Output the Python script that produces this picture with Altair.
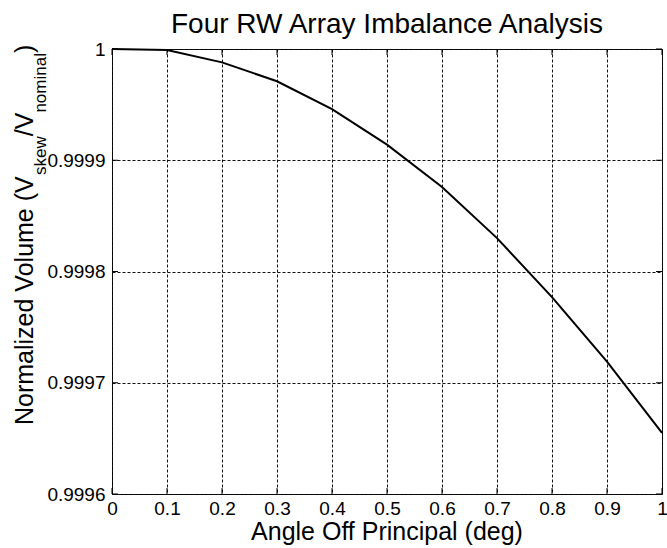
import altair as alt
import pandas as pd

# ---- data ----
angle_deg = [0.0, 0.1, 0.2, 0.3, 0.4, 0.5, 0.6, 0.7, 0.8, 0.9, 1.0]
norm_volume = [1.0, 0.999999, 0.999988, 0.999971, 0.999946, 0.999914,
               0.999876, 0.999830, 0.999777, 0.999719, 0.999655]
x_ticks = [0, 0.1, 0.2, 0.3, 0.4, 0.5, 0.6, 0.7, 0.8, 0.9, 1]
y_ticks = [0.9996, 0.9997, 0.9998, 0.9999, 1]

title_text = "Four RW Array Imbalance Analysis"
x_title = "Angle Off Principal (deg)"
# y title pieces: (text, is_subscript)
y_title_parts = [("Normalized Volume (V", False), ("skew", True), ("/V", False),
                 ("nominal", True), (")", False)]

FONT = "Liberation Sans"
LABEL_FONT = "Liberation Sans Narrow, Liberation Sans"
W, H = 550, 445
MAIN_FS, SUB_FS = 25, 17

# Arial/Liberation Sans advance widths (per 1000 em) for y-title layout
ADV = {'N': 722, 'o': 556, 'r': 333, 'm': 833, 'a': 556, 'l': 222, 'i': 222,
       'z': 500, 'e': 556, 'd': 556, ' ': 278, 'V': 667, 'u': 556, '(': 333,
       ')': 333, 's': 500, 'k': 500, 'w': 722, '/': 278, 'n': 556}


def text_width(s, fs):
    return sum(ADV.get(c, 556) for c in s) * fs / 1000.0


df = pd.DataFrame({"angle": angle_deg, "vol": norm_volume})
xt = pd.DataFrame({"angle": x_ticks})
yt = pd.DataFrame({"vol": y_ticks})

xscale = alt.Scale(domain=[0, 1], nice=False, zero=False)
yscale = alt.Scale(domain=[0.9996, 1], nice=False, zero=False)

grid_kw = dict(grid=True, gridColor="#111111", gridDash=[3, 2], gridWidth=1,
               gridOpacity=1, domain=False, ticks=False, labelFont=LABEL_FONT,
               labelFontSize=19, labelColor="black", title=None, format="~g",
               labelFlush=False)
x_axis = alt.Axis(values=x_ticks, labelPadding=5, **grid_kw)
y_axis = alt.Axis(values=y_ticks, labelPadding=7, **grid_kw)

X = alt.X("angle:Q", scale=xscale, axis=x_axis)
Y = alt.Y("vol:Q", scale=yscale, axis=y_axis)

line = alt.Chart(df).mark_line(color="black", strokeWidth=2).encode(x=X, y=Y)

TL = 6
tick_b = alt.Chart(xt).mark_rule(color="black").encode(
    x=X, y=alt.value(H), y2=alt.value(H - TL))
tick_t = alt.Chart(xt).mark_rule(color="black").encode(
    x=X, y=alt.value(0), y2=alt.value(TL))
tick_l = alt.Chart(yt).mark_rule(color="black").encode(
    y=Y, x=alt.value(0), x2=alt.value(TL))
tick_r = alt.Chart(yt).mark_rule(color="black").encode(
    y=Y, x=alt.value(W), x2=alt.value(W - TL))

one = alt.Data(values=[{"k": 0}])

title_mark = alt.Chart(one).mark_text(
    text=title_text, font=FONT, fontSize=28, align="center",
    baseline="alphabetic", color="black").encode(
    x=alt.value(W / 2), y=alt.value(-16))

xtitle_mark = alt.Chart(one).mark_text(
    text=x_title, font=FONT, fontSize=25, align="center",
    baseline="alphabetic", color="black").encode(
    x=alt.value(W / 2), y=alt.value(H + 46))

# y title composed of rotated pieces with subscripts
main_base_x = -79
sub_base_x = -66
start_y = 376
layers_y = []
cur = start_y
for txt, sub in y_title_parts:
    fs = SUB_FS if sub else MAIN_FS
    layers_y.append(
        alt.Chart(one).mark_text(
            text=txt, font=FONT, fontSize=fs, angle=270, align="left",
            baseline="alphabetic", color="black").encode(
            x=alt.value(sub_base_x if sub else main_base_x), y=alt.value(cur)))
    cur -= text_width(txt, fs)

chart = alt.layer(line, tick_b, tick_t, tick_l, tick_r, title_mark,
                  xtitle_mark, *layers_y).properties(
    width=W, height=H,
    autosize=alt.AutoSizeParams(type="none"),
    padding={"left": 112, "top": 49, "right": 5, "bottom": 54},
    background="white",
).configure_view(stroke="black", strokeWidth=1)

chart.save("out.html", embed_options={"renderer": "svg", "actions": False})
